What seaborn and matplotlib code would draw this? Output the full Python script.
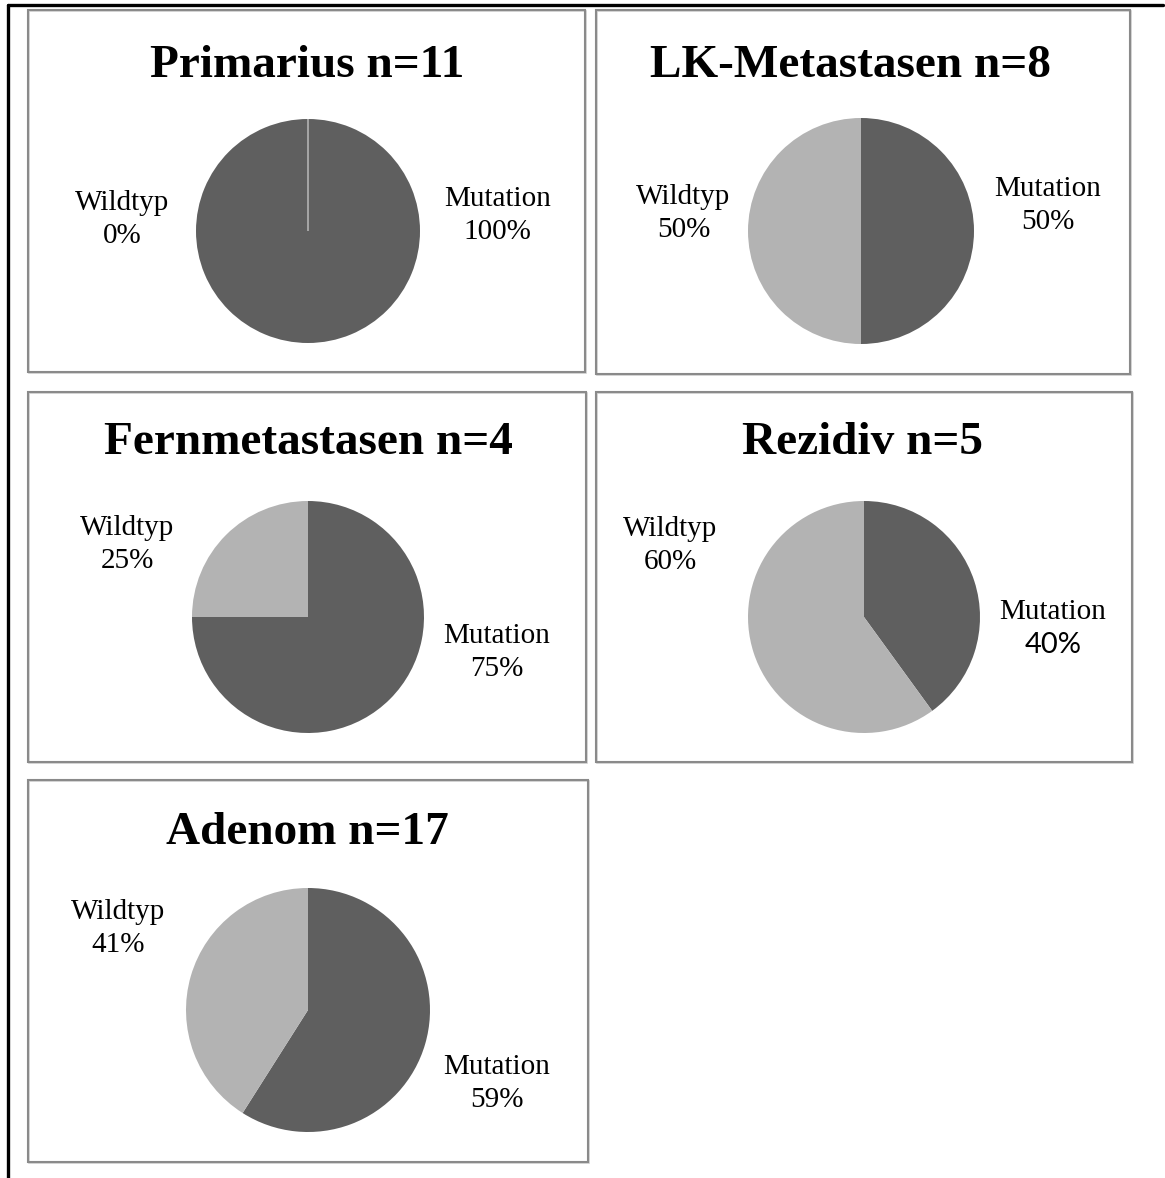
import matplotlib
matplotlib.use("Agg")
import matplotlib.pyplot as plt
import seaborn as sns
from matplotlib.patches import Rectangle
from matplotlib.lines import Line2D

# Data: share of KRAS status per tissue group (percent)
groups = ["Primarius", "LK-Metastasen", "Fernmetastasen", "Rezidiv", "Adenom"]
sample_n = [11, 8, 4, 5, 17]
mutation_pct = [100, 50, 75, 40, 59]
wildtyp_pct = [0, 50, 25, 60, 41]
slice_names = ["Mutation", "Wildtyp"]

sns.set_theme(style="white")
plt.rcParams["font.family"] = ["Liberation Serif", "DejaVu Serif"]
palette = sns.color_palette(["#5f5f5f", "#b3b3b3"])

W, H = 1165, 1178
fig = plt.figure(figsize=(W / 100, H / 100), dpi=100)
fig.patch.set_facecolor("white")


def fx(x):
    return x / W


def fy(y):
    return 1 - y / H


# Panel layout in pixels: frame box, pie centre, radius, title position,
# label anchors (in pie radii) for Mutation / Wildtyp, font for the percent line
layout = [
    dict(box=(28, 10, 585, 372), c=(308, 231), r=112, title=(307, 66),
         lab=[(1.69, 0.15), (-1.66, 0.12)], pfont=[None, None]),
    dict(box=(596, 10, 1130, 374), c=(861, 231), r=113, title=(850, 66),
         lab=[(1.65, 0.24), (-1.57, 0.17)], pfont=[None, None]),
    dict(box=(28, 392, 586, 762), c=(308, 617), r=116, title=(308, 443),
         lab=[(1.63, -0.29), (-1.56, 0.64)], pfont=[None, None]),
    dict(box=(596, 392, 1132, 762), c=(864, 617), r=116, title=(862, 443),
         lab=[(1.63, -0.09), (-1.67, 0.63)], pfont=[["Lato", "DejaVu Sans"], None]),
    dict(box=(28, 780, 588, 1162), c=(308, 1010), r=122, title=(307, 833),
         lab=[(1.55, -0.59), (-1.56, 0.68)], pfont=[None, None]),
]

# Outer document frame (top and left edges)
fig.add_artist(Line2D([fx(8), fx(1163)], [fy(5), fy(5)], color="black", lw=2.4))
fig.add_artist(Line2D([fx(8), fx(8)], [fy(5), fy(1178)], color="black", lw=2.4))

for i, g in enumerate(groups):
    L = layout[i]
    x0, y0, x1, y1 = L["box"]
    # soft shadow + grey chart frame
    fig.add_artist(Rectangle((fx(x0 + 1), fy(y1 + 1)), fx(x1 - x0), (y1 - y0) / H,
                             transform=fig.transFigure, fill=False,
                             edgecolor="#d0d0d0", lw=1.2))
    fig.add_artist(Rectangle((fx(x0), fy(y1)), fx(x1 - x0), (y1 - y0) / H,
                             transform=fig.transFigure, fill=False,
                             edgecolor="#8a8a8a", lw=1.5))

    cx, cy = L["c"]
    r = L["r"]
    ax = fig.add_axes([fx(cx - r), fy(cy + r), 2 * r / W, 2 * r / H])
    vals = [mutation_pct[i], wildtyp_pct[i]]
    wedges, _ = ax.pie(vals, colors=palette, startangle=90, counterclock=False,
                       radius=1, wedgeprops=dict(linewidth=0))
    for w, v, col in zip(wedges, vals, palette):
        if v == 0:
            w.set_edgecolor(col)
            w.set_linewidth(1.2)
    ax.set_xlim(-1, 1)
    ax.set_ylim(-1, 1)
    ax.set_aspect("equal", adjustable="box")
    ax.axis("off")

    fig.text(fx(L["title"][0]), fy(L["title"][1]), f"{g} n={sample_n[i]}",
             ha="center", va="center", fontsize=34, fontweight="bold", color="black")

    pcts = [mutation_pct[i], wildtyp_pct[i]]
    for j, name in enumerate(slice_names):
        lx, ly = L["lab"][j]
        px = cx + lx * r
        py = cy - ly * r
        fig.text(fx(px), fy(py - 15), name, ha="center", va="center",
                 fontsize=21, color="black")
        kw = {}
        if L["pfont"][j] is not None:
            kw["family"] = L["pfont"][j]
        fig.text(fx(px), fy(py + 18), f"{pcts[j]}%", ha="center", va="center",
                 fontsize=21, color="black", **kw)

fig.savefig("out.png", dpi=100, facecolor="white")
